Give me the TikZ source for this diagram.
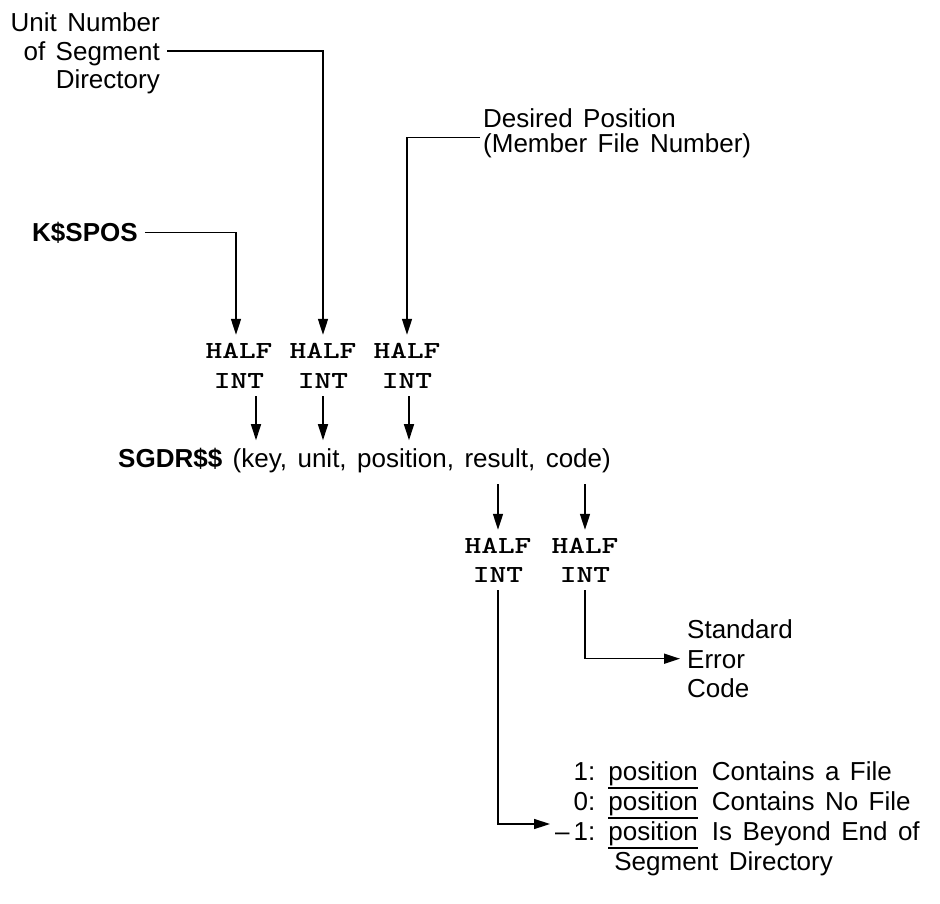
\documentclass[tikz,border=0pt]{standalone}
\usepackage{fontspec}
\setmainfont{Liberation Sans}[WordSpace=1.45]
\usepackage{graphicx}
\usetikzlibrary{arrows.meta,calc}
\newcommand\myul[1]{\setbox0\hbox{#1}\rlap{\rule[-8.5pt]{\wd0}{1.6pt}}\box0}
\newcommand\hw[1]{\scalebox{1.3}[1]{#1}}
\begin{document}
\begin{tikzpicture}[x=1pt,y=-1pt,
  lbl/.style={font=\fontsize{26}{30}\selectfont, inner xsep=7pt, inner ysep=0pt, text height=18.6pt, text depth=0pt},
  tw/.style={font=\ttfamily\bfseries\fontsize{24.5}{30}\selectfont, inner xsep=0pt, inner ysep=8pt, text height=15pt, text depth=0pt, anchor=base},
  arr/.style={line width=1.5pt, -{Triangle[length=16pt,width=10pt]}}]
\useasboundingbox (0,0) rectangle (940,904);
% top labels
\node[lbl,anchor=base east] (u1) at (167,32) {Unit Number};
\node[lbl,anchor=base east] (u2) at (167,60.5) {of Segment};
\node[lbl,anchor=base east] (u3) at (167,89) {Directory};
\node[lbl,anchor=base west,inner xsep=3pt] (d1) at (480,128) {Desired Position};
\node[lbl,anchor=base west,inner xsep=3pt] (d2) at (480,153) {(Member File Number)};
\node[lbl,anchor=base west] (k) at (25,242) {\textbf{K\$SPOS}};
% type boxes, first row
\node[tw] (h1) at (239,358) {\hw{HALF}};
\node[tw] (h2) at (323,358) {\hw{HALF}};
\node[tw] (h3) at (407,358) {\hw{HALF}};
\node[tw] (i1) at (239,388) {\hw{INT}};
\node[tw] (i2) at (323,388) {\hw{INT}};
\node[tw] (i3) at (407,388) {\hw{INT}};
% call
\node[lbl,anchor=base west,inner ysep=8pt] (s) at (111,467) {\textbf{SGDR\$\$} (key, unit, position, result, code)};
% type boxes, second row
\node[tw] (h4) at (498,553) {\hw{HALF}};
\node[tw] (h5) at (585,553) {\hw{HALF}};
\node[tw] (i4) at (498,582) {\hw{INT}};
\node[tw] (i5) at (585,582) {\hw{INT}};
% outputs
\node[lbl,anchor=base west] (st) at (680,638) {Standard};
\node[lbl,anchor=base west] (er) at (680,668) {Error};
\node[lbl,anchor=base west] (cd) at (680,697) {Code};
\node[anchor=base west, inner sep=0pt, font=\fontsize{26}{30}\selectfont] (lst) at (555,780)
  {\begin{tabular}[t]{@{}r@{\hspace{13pt}}l@{\hspace{14pt}}l@{}}
   1: & \myul{position} & Contains a File\\
   0: & \myul{position} & Contains No File\\
   \textendash\kern4pt 1: & \myul{position} & Is Beyond End of\\
    & \multicolumn{2}{l@{}}{Segment Directory}
   \end{tabular}};
\coordinate (lin) at (550,824);
% connectors
\draw[arr] (u2.east) -| (h2.north);
\draw[arr] ($(d2.west)+(0,-6)$) -| (h3.north);
\draw[arr] (k.east) -| ($(h1.north)+(-3,0)$);
\draw[arr] ($(i1.south)+(17,0)$) -- ($(i1.south |- s.north)+(17,0)$);
\draw[arr] (i2.south) -- (i2.south |- s.north);
\draw[arr] ($(i3.south)+(2,0)$) -- ($(i3.south |- s.north)+(2,0)$);
\draw[arr] ($(h4.north |- s.south)+(0,9)$) -- (h4.north);
\draw[arr] ($(h5.north |- s.south)+(0,9)$) -- (h5.north);
\draw[arr] (i5.south) |- (er.west);
\draw[arr] (i4.south) |- (lin);
\end{tikzpicture}
\end{document}
